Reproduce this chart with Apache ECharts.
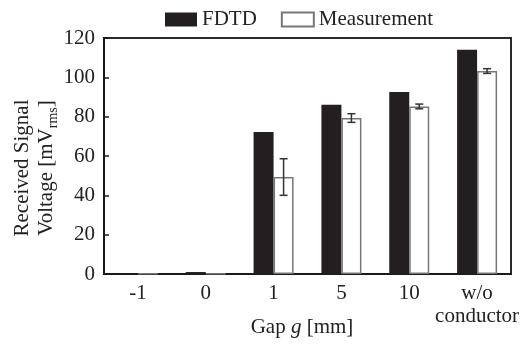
<!DOCTYPE html>
<html>
<head>
<meta charset="utf-8">
<script src="https://cdn.jsdelivr.net/npm/echarts@6/dist/echarts.min.js"></script>
<style>
  html, body { margin: 0; padding: 0; background: #fff; }
  #chart { width: 527px; height: 346px; }
</style>
</head>
<body>
<div id="chart"></div>
<script>
// Gap values (mm) along the x axis
const categories = ['-1', '0', '1', '5', '10', 'w/o\nconductor'];
// Received signal voltage, mV rms
const fdtd = [0.3, 1.0, 72.2, 86.0, 92.6, 114.0];
const measured = [0.2, 0.2, 49.3, 79.3, 85.2, 103.2];
const measuredErr = [0, 0, 9.3, 2.2, 1.2, 1.2];
const yTicks = [0, 20, 40, 60, 80, 100, 120];

const FONT = '"Liberation Serif", "DejaVu Serif", serif';
const FS = 21;
const BAR_W = 20;
const INK = '#222';

const errData = measured.map((v, i) => [i, v - measuredErr[i], v + measuredErr[i]]);

const chart = echarts.init(document.getElementById('chart'), null, { renderer: 'canvas' });

chart.setOption({
  animation: false,
  backgroundColor: '#fff',
  textStyle: { fontFamily: FONT },
  grid: {
    left: 104, right: 16, top: 38, bottom: 72,
    outerBoundsMode: 'none', containLabel: false,
    show: true, borderColor: '#2a2a2a', borderWidth: 2, backgroundColor: 'transparent'
  },
  legend: {
    top: 4,
    left: 160,
    itemWidth: 32,
    itemHeight: 14,
    itemGap: 24,
    icon: 'rect',
    data: ['FDTD', 'Measurement'],
    textStyle: { fontFamily: FONT, fontSize: FS, color: INK }
  },
  graphic: [
    {
      // y-axis title, two lines with an rms subscript
      type: 'text',
      x: 34,
      y: 168,
      rotation: Math.PI / 2,
      style: {
        text: '{t|Received Signal}\n{t|Voltage [mV}{s|rms}{t|]}',
        align: 'center',
        verticalAlign: 'middle',
        fill: INK,
        font: FS + 'px ' + FONT,
        rich: {
          t: { fontFamily: FONT, fontSize: FS, fill: INK, lineHeight: 24 },
          s: { fontFamily: FONT, fontSize: 14, fill: INK, lineHeight: 24, padding: [14, 0, 0, 0] }
        }
      }
    },
    {
      // x-axis title with italic g
      type: 'text',
      x: 302,
      y: 327,
      style: {
        text: 'Gap {i|g} [mm]',
        align: 'center',
        verticalAlign: 'middle',
        fill: INK,
        font: FS + 'px ' + FONT,
        rich: {
          i: { fontFamily: FONT, fontSize: FS, fontStyle: 'italic', fill: INK }
        }
      }
    }
  ],
  xAxis: {
    type: 'category',
    data: categories,
    axisLine: { lineStyle: { color: '#1a1a1a', width: 2 } },
    axisTick: { inside: true, length: 5, lineStyle: { color: '#1a1a1a', width: 1.5 } },
    axisLabel: { interval: 0, fontFamily: FONT, fontSize: FS, color: INK, margin: 8, lineHeight: 23 }
  },
  yAxis: {
    type: 'value',
    min: yTicks[0],
    max: yTicks[yTicks.length - 1],
    interval: 20,
    splitLine: { show: false },
    axisLine: { show: true, lineStyle: { color: '#1a1a1a', width: 2 } },
    axisTick: { show: true, inside: true, length: 5, lineStyle: { color: '#1a1a1a', width: 1.5 } },
    axisLabel: { fontFamily: FONT, fontSize: FS, color: INK, margin: 9 }
  },
  series: [
    {
      name: 'FDTD',
      type: 'bar',
      data: fdtd,
      barWidth: BAR_W,
      barGap: '0%',
      itemStyle: { color: '#231f20' }
    },
    {
      name: 'Measurement',
      type: 'bar',
      data: measured,
      barWidth: BAR_W,
      itemStyle: { color: '#ffffff', borderColor: '#777', borderWidth: 1.5 }
    },
    {
      name: 'err',
      type: 'custom',
      data: errData,
      z: 10,
      renderItem: function (params, api) {
        const i = api.value(0);
        const lo = api.coord([i, api.value(1)]);
        const hi = api.coord([i, api.value(2)]);
        if (hi[1] === lo[1]) return null;
        const x = lo[0] + BAR_W / 2;
        const cap = 4;
        const style = { stroke: '#333', lineWidth: 1.5 };
        return {
          type: 'group',
          children: [
            { type: 'line', shape: { x1: x, y1: lo[1], x2: x, y2: hi[1] }, style: style },
            { type: 'line', shape: { x1: x - cap, y1: lo[1], x2: x + cap, y2: lo[1] }, style: style },
            { type: 'line', shape: { x1: x - cap, y1: hi[1], x2: x + cap, y2: hi[1] }, style: style }
          ]
        };
      }
    }
  ]
});
</script>
</body>
</html>
